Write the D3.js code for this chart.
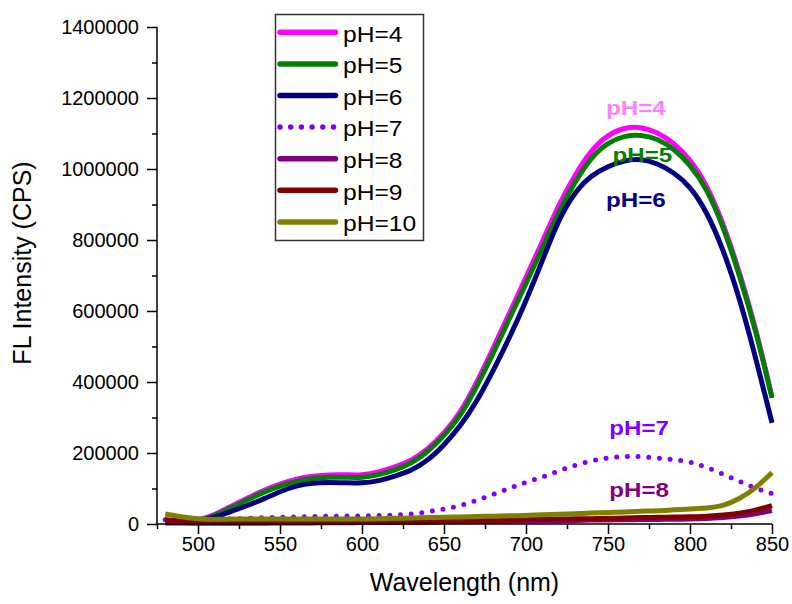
<!DOCTYPE html>
<html>
<head>
<meta charset="utf-8">
<script src="https://cdn.jsdelivr.net/npm/d3@7"></script>
<style>
  body { margin: 0; background: #fff; }
  svg { display: block; font-family: "Liberation Sans", Arial, sans-serif; }
</style>
</head>
<body>
<div id="chart"></div>
<script>
// wavelengths (nm), 10 nm steps
const wavelengths = d3.range(480, 851, 10);

const ph4 = [8000, 7000, 10000, 25000, 50000, 73000, 95000, 113000, 127000, 135000,
  139000, 139000, 137000, 146000, 160000, 178000, 210000, 255000, 313000, 398000,
  495000, 595000, 695000, 795000, 900000, 985000, 1055000, 1097000, 1117000, 1119000,
  1104000, 1074000, 1028000, 958000, 852000, 712000, 555000, 358000];
const ph5 = [7000, 6000, 9000, 22000, 45000, 68000, 90000, 107000, 121000, 129000,
  132000, 132000, 130000, 138000, 152000, 170000, 203000, 248000, 303000, 387000,
  480000, 580000, 677000, 777000, 880000, 965000, 1035000, 1075000, 1094000, 1097000,
  1086000, 1058000, 1013000, 947000, 842000, 704000, 548000, 355000];
const ph6 = [5000, 5000, 8000, 18000, 35000, 52000, 70000, 92000, 108000, 116000,
  117000, 116000, 115000, 121000, 135000, 150000, 178000, 222000, 275000, 345000,
  432000, 525000, 628000, 742000, 860000, 937000, 983000, 1008000, 1024000, 1029000,
  1016000, 991000, 952000, 882000, 777000, 640000, 470000, 285000];
const ph7 = [12000, 11000, 10000, 12000, 14000, 16000, 18000, 19000, 20000, 21000,
  22000, 22000, 23000, 24000, 25000, 28000, 34000, 42000, 51000, 67000,
  83000, 101000, 118000, 132000, 150000, 166000, 178000, 187000, 191000, 190000,
  186000, 181000, 176000, 160000, 141000, 120000, 100000, 86000];
const ph8 = [3000, 2500, 2000, 2000, 2000, 2000, 2500, 2500, 3000, 3000,
  3500, 3500, 4000, 4000, 4500, 5000, 5500, 6000, 6500, 7000,
  7500, 8000, 8500, 9000, 9500, 10000, 11000, 11500, 12000, 12500,
  13000, 13500, 14000, 15000, 18000, 22000, 28000, 38000];
const ph9 = [12000, 8000, 5000, 5000, 5000, 5500, 5500, 6000, 6000, 6500,
  6500, 7000, 7000, 7500, 7500, 8000, 8000, 8500, 9000, 10000,
  10500, 11000, 12000, 13000, 14000, 14500, 15000, 16000, 17000, 18000,
  19000, 19500, 20000, 21000, 25000, 30000, 38000, 52000];
const ph10 = [28000, 20000, 14000, 13000, 14000, 14000, 14000, 14000, 14000, 14000,
  14000, 14000, 14000, 15000, 16000, 17000, 18000, 19000, 20000, 21000,
  22000, 23000, 24000, 26000, 27000, 29000, 31000, 32000, 34000, 36000,
  37000, 40000, 42000, 45000, 50000, 70000, 100000, 145000];

const seriesNames = ['pH=4', 'pH=5', 'pH=6', 'pH=7', 'pH=8', 'pH=9', 'pH=10'];
const seriesValues = [ph4, ph5, ph6, ph7, ph8, ph9, ph10];
const seriesColors = ['#ff00ff', '#008000', '#000080', '#8000ff', '#800080', '#800000', '#808000'];

const xMajorTicks = [500, 550, 600, 650, 700, 750, 800, 850];
const xMinorTicks = [475, 525, 575, 625, 675, 725, 775, 825];
const yMajorTicks = [0, 200000, 400000, 600000, 800000, 1000000, 1200000, 1400000];
const yMinorTicks = [100000, 300000, 500000, 700000, 900000, 1100000, 1300000];

// in-plot labels
const annLabels = ['pH=4', 'pH=5', 'pH=6', 'pH=7', 'pH=8'];
const annWave = [767, 771, 767, 769, 769];
const annValue = [1152000, 1020000, 893000, 251000, 76000];
const annColors = ['#ff80ff', '#008000', '#000080', '#8000ff', '#800080'];

const width = 792, height = 604;

const svg = d3.select('#chart').append('svg')
  .attr('width', width)
  .attr('height', height);

const x = d3.scaleLinear().domain([475, 850]).range([157, 772]);
const y = d3.scaleLinear().domain([0, 1400000]).range([524, 27]);

// curves
const line = d3.line()
  .x(d => x(d[0]))
  .y(d => y(d[1]))
  .curve(d3.curveBasis);

seriesValues.forEach((vals, i) => {
  const pts = wavelengths.map((w, j) => [w, vals[j]]);
  const path = svg.append('path')
    .datum(pts)
    .attr('fill', 'none')
    .attr('stroke', seriesColors[i])
    .attr('stroke-width', 5)
    .attr('stroke-linejoin', 'round')
    .attr('d', line);
  if (i === 3) {
    path.attr('stroke-dasharray', '0 10.7').attr('stroke-linecap', 'round');
  }
});

// axes
const fontTick = '20px';

const xAxis = svg.append('g')
  .attr('transform', `translate(0,${y(0)})`)
  .call(d3.axisBottom(x).tickValues(xMajorTicks).tickFormat(d3.format('d'))
    .tickSize(10).tickSizeOuter(0).tickPadding(3));
xAxis.append('g')
  .call(d3.axisBottom(x).tickValues(xMinorTicks).tickFormat('').tickSize(5).tickSizeOuter(0));

const yAxis = svg.append('g')
  .attr('transform', `translate(${x(475)},0)`)
  .call(d3.axisLeft(y).tickValues(yMajorTicks).tickFormat(d3.format('d'))
    .tickSize(10).tickSizeOuter(0).tickPadding(8));
yAxis.append('g')
  .call(d3.axisLeft(y).tickValues(yMinorTicks).tickFormat('').tickSize(5).tickSizeOuter(0));

svg.selectAll('.domain').remove();
[xAxis, yAxis].forEach(g => {
  g.selectAll('line').attr('stroke', '#000').attr('stroke-width', 1.5);
  g.selectAll('text').attr('fill', '#000')
    .style('font-size', fontTick)
    .style('font-family', '"Liberation Sans", Arial, sans-serif');
});

// axis lines
svg.append('line')
  .attr('x1', x(475)).attr('x2', x(850))
  .attr('y1', y(0)).attr('y2', y(0))
  .attr('stroke', '#000').attr('stroke-width', 1.5);
svg.append('line')
  .attr('x1', x(475)).attr('x2', x(475))
  .attr('y1', y(0) + 0.75).attr('y2', y(1400000))
  .attr('stroke', '#000').attr('stroke-width', 1.5);

// axis titles
svg.append('text')
  .attr('x', (x(475) + x(850)) / 2)
  .attr('y', 591)
  .attr('text-anchor', 'middle')
  .style('font-size', '25px')
  .text('Wavelength (nm)');

svg.append('text')
  .attr('transform', 'translate(31,263) rotate(-90)')
  .attr('text-anchor', 'middle')
  .style('font-size', '25px')
  .text('FL Intensity (CPS)');

// in-plot labels
annLabels.forEach((t, i) => {
  svg.append('text')
    .attr('transform', `translate(${x(annWave[i])},${y(annValue[i])}) scale(1.15,1)`)
    .attr('text-anchor', 'middle')
    .attr('fill', annColors[i])
    .style('font-size', '21px')
    .style('font-weight', 'bold')
    .text(t);
});

// legend
const legend = svg.append('g');
legend.append('rect')
  .attr('x', 275.5).attr('y', 14.5)
  .attr('width', 148).attr('height', 226)
  .attr('fill', '#fff')
  .attr('stroke', '#333').attr('stroke-width', 1.5);

seriesNames.forEach((name, i) => {
  const ly = 32.3 + i * 31.6;
  const l = legend.append('line')
    .attr('x1', 280).attr('x2', 335.5)
    .attr('y1', ly).attr('y2', ly)
    .attr('stroke', seriesColors[i])
    .attr('stroke-width', 5.5)
    .attr('stroke-linecap', 'round');
  if (i === 3) l.attr('stroke-dasharray', '0 10.7');
  legend.append('text')
    .attr('transform', `translate(343,${ly + 9.2}) scale(1.12,1)`)
    .style('font-size', '22px')
    .text(name);
});
</script>
</body>
</html>
